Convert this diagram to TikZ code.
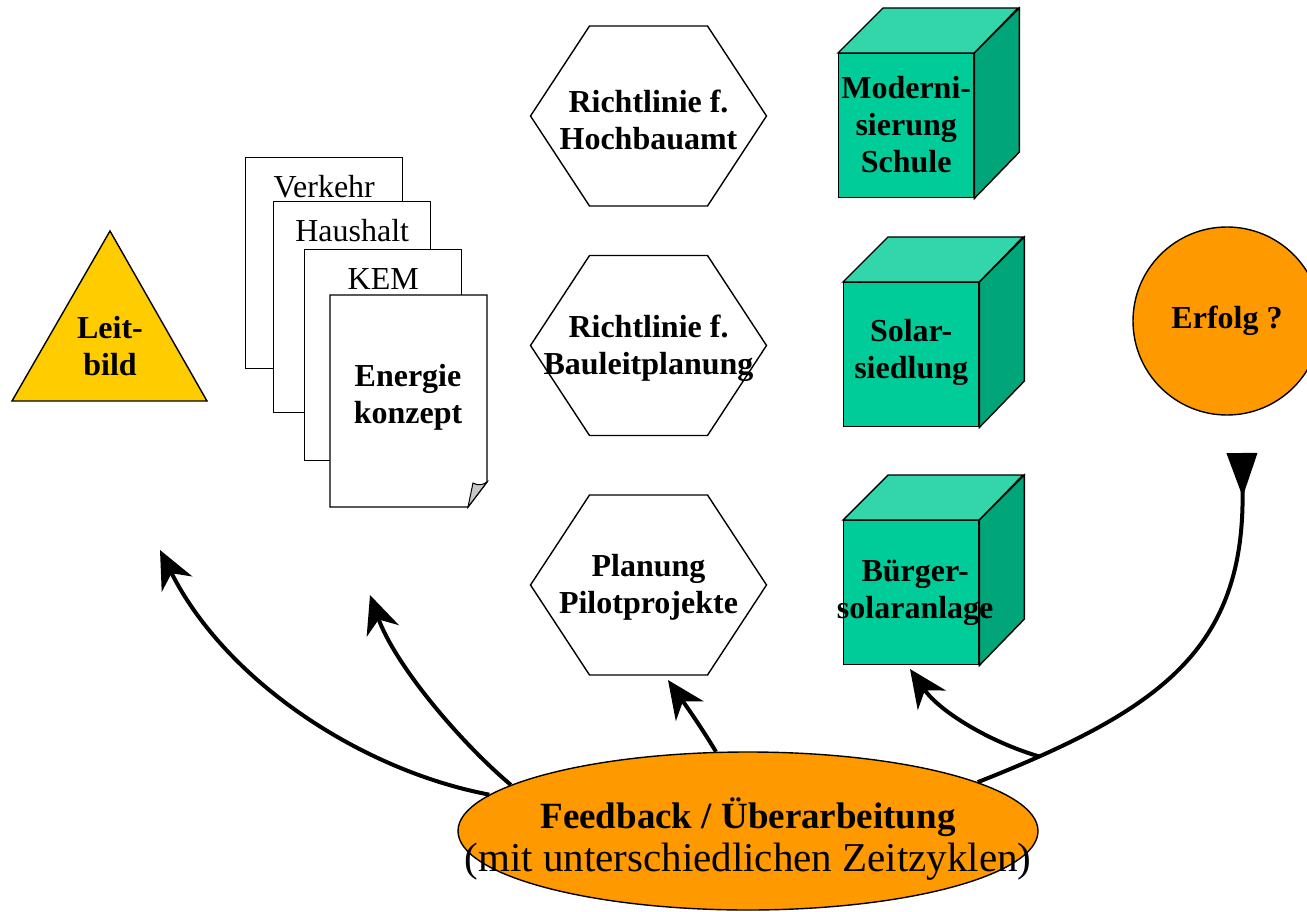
\documentclass[tikz,border=0pt]{standalone}
\usepackage{fontspec}
\setmainfont{Liberation Serif}
\usetikzlibrary{arrows.meta,calc,shapes.geometric}
\definecolor{gold}{HTML}{FFCC00}
\definecolor{orng}{HTML}{FF9900}
\definecolor{cfront}{HTML}{00CC99}
\definecolor{ctop}{HTML}{33D6AA}
\definecolor{cside}{HTML}{00A57A}
\definecolor{flapgray}{HTML}{C8C8C8}
\begin{document}
\begin{tikzpicture}[x=1pt,y=-1pt,
  outl/.style={draw=black, line width=1.4pt},
  bl/.style={font=\fontsize{32}{37}\selectfont\bfseries, align=center, inner sep=0pt},
  rg/.style={font=\fontsize{32}{37}\selectfont, inner sep=0pt},
  pagebox/.style={outl, fill=white, rectangle, inner sep=0pt, minimum width=157pt, minimum height=211pt, anchor=north west},
  frontface/.style={outl, fill=cfront, rectangle, inner sep=0pt, minimum width=135pt, minimum height=144pt, anchor=north west},
  arr/.style={line width=4pt, -{Stealth[length=38pt, width=34pt, inset=12pt]}},
  hexa/.pic={\draw[outl, fill=white] (-118,0) -- (-59,-90) -- (59,-90) -- (118,0) -- (59,90) -- (-59,90) -- cycle;},
]
\useasboundingbox (0,0) rectangle (1307,912);

% Leitbild triangle
\draw[outl, fill=gold] (110,231) -- (207,401) -- (12,401) -- cycle;
\node[bl] (leit) at (110,346) {Leit-\\bild};

% document stack
\node[pagebox] (p1) at (245,157) {};
\node[rg, anchor=base] (t1) at ($(p1.north)+(0,41)$) {Verkehr};
\node[pagebox] (p2) at (273,201) {};
\node[rg, anchor=base] (t2) at ($(p2.north)+(0,41)$) {Haushalt};
\node[pagebox] (p3) at (304,249) {};
\node[rg, anchor=base] (t3) at ($(p3.north)+(0,40)$) {KEM};
\draw[outl, fill=white] (330,295) -- (487,295) -- (487,482) -- (468,507) -- (330,507) -- cycle;
\draw[outl, fill=flapgray, line width=1pt] (468,507) -- (473,483) .. controls (478,486) and (483,485) .. (487,482) -- cycle;
\node[bl] (ek) at (408,397) {Energie\\konzept};

% hexagons
\pic at (648.5,116) {hexa};
\node[bl] (h1) at (648.5,120) {Richtlinie f.\\Hochbauamt};
\pic at (648.5,345.5) {hexa};
\node[bl] (h2) at (648.5,348) {Richtlinie f.\\Bauleitplanung};
\pic at (648.5,585) {hexa};
\node[bl] (h3) at (648.5,587) {Planung\\Pilotprojekte};

% cubes
\node[frontface] (c1) at (838,53) {};
\draw[outl, fill=ctop] (c1.north west) -- ++(45,-45) -- ++(135,0) -- (c1.north east) -- cycle;
\draw[outl, fill=cside] (c1.north east) -- ++(45,-45) -- ++(0,144) -- (c1.south east) -- cycle;
\node[bl] (c1t) at ($(c1.center)+(0,-1)$) {Moderni-\\sierung\\Schule};

\node[frontface] (c2) at (843,282) {};
\draw[outl, fill=ctop] (c2.north west) -- ++(45,-45) -- ++(135,0) -- (c2.north east) -- cycle;
\draw[outl, fill=cside] (c2.north east) -- ++(45,-45) -- ++(0,144) -- (c2.south east) -- cycle;
\node[bl] (c2t) at ($(c2.center)+(0,-2)$) {Solar-\\siedlung};

\node[frontface] (c3) at (843,520) {};
\draw[outl, fill=ctop] (c3.north west) -- ++(45,-45) -- ++(135,0) -- (c3.north east) -- cycle;
\draw[outl, fill=cside] (c3.north east) -- ++(45,-45) -- ++(0,144) -- (c3.south east) -- cycle;
\node[bl] (c3t) at ($(c3.center)+(4,0)$) {Bürger-\\solaranlage};

% Erfolg circle
\node[outl, circle, fill=orng, minimum size=188pt, bl] (erf) at (1227,321) {Erfolg ?};

% Feedback ellipse
\node[outl, ellipse, fill=orng, minimum width=580pt, minimum height=158pt, inner sep=0pt] (fb) at (748,831) {};
\node[font=\fontsize{37}{43}\selectfont\bfseries, inner sep=0pt, anchor=base] (fbt1) at (748,828) {Feedback / Überarbeitung};
\node[font=\fontsize{41}{47}\selectfont, inner sep=0pt, anchor=base] (fbt2) at (748,871) {(mit unterschiedlichen Zeitzyklen)};

% arrows
\coordinate (tipL) at (160,550);
\coordinate (tipE) at (370,595);
\coordinate (tipP) at (668,680);
\coordinate (tipB) at (910,669);
\coordinate (tipR) at (1242,453);
\draw[arr] (fb.172.7) .. controls (360,770) and (225,680) .. (tipL);
\draw[arr] (fb.169.65) .. controls (460,742) and (395,665) .. (tipE);
\draw[arr] (fb.112.7) .. controls (700,725) and (682,700) .. (tipP);
\draw[line width=4pt, -{Triangle[reversed, length=44pt, width=30pt]}] (fb.12) .. controls (1160,710) and (1245,650) .. (tipR) coordinate[pos=0.12] (j);
\draw[arr] (j) .. controls (990,742) and (940,712) .. (tipB);
\end{tikzpicture}
\end{document}
